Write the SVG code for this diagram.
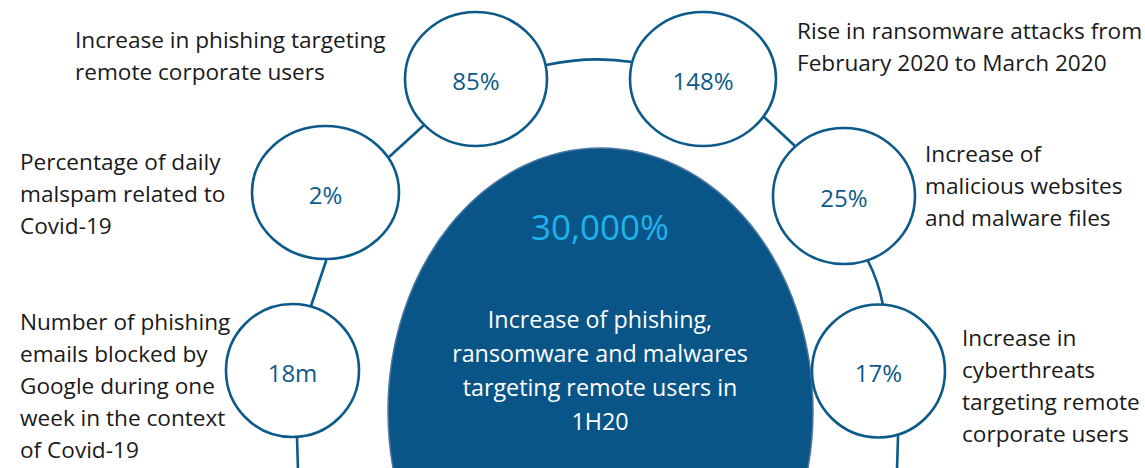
<svg xmlns="http://www.w3.org/2000/svg" width="1145" height="468" viewBox="0 0 1145 468">
  <style>
    .ring { fill: none; stroke: #0c5a8a; stroke-width: 2.6; stroke-linecap: round; }
    .bubble { fill: #ffffff; stroke: #0c5a8a; stroke-width: 2.6; }
    .val { font-family: "Open Sans", "Liberation Sans", sans-serif; font-size: 24px; fill: #0c5a8a; text-anchor: middle; }
    .lbl { font-family: "Open Sans", "Liberation Sans", sans-serif; font-size: 22.6px; fill: #1a1a1a; }
    .core { fill: #0a5587; stroke: #4c78a2; stroke-width: 1.5; }
    .big { font-family: "Open Sans", "Liberation Sans", sans-serif; font-size: 35px; fill: #1fb2ec; text-anchor: middle; }
    .desc { font-family: "Open Sans", "Liberation Sans", sans-serif; font-size: 23.3px; fill: #ffffff; text-anchor: middle; }
  </style>

  <rect width="1145" height="468" fill="#ffffff"/>

  <!-- ring segments linking the figures -->
  <g id="connectors">
    <path class="ring" d="M546,65 Q590,55.5 632,62"/>
    <path class="ring" d="M423,126 L389,157"/>
    <path class="ring" d="M326,261 L311,306"/>
    <path class="ring" d="M297,437 L298,470"/>
    <path class="ring" d="M765,118 L795,146"/>
    <path class="ring" d="M868,261 Q878,280 883,305"/>
    <path class="ring" d="M898,437 L897,470"/>
  </g>

  <!-- central figure -->
  <g id="core">
    <ellipse class="core" cx="600.5" cy="411" rx="212.5" ry="263"/>
    <text class="big" x="600" y="240">30,000%</text>
    <text class="desc" x="600" y="328">Increase of phishing,</text>
    <text class="desc" x="600" y="362">ransomware and malwares</text>
    <text class="desc" x="600" y="396">targeting remote users in</text>
    <text class="desc" x="600" y="430">1H20</text>
  </g>

  <g id="n85">
    <ellipse class="bubble" cx="476" cy="79" rx="71" ry="67"/>
    <text class="val" x="476" y="90">85%</text>
    <text class="lbl" x="75" y="48">Increase in phishing targeting</text>
    <text class="lbl" x="75" y="80">remote corporate users</text>
  </g>

  <g id="n148">
    <ellipse class="bubble" cx="703" cy="79" rx="73" ry="67"/>
    <text class="val" x="703" y="90">148%</text>
    <text class="lbl" x="797" y="39">Rise in ransomware attacks from</text>
    <text class="lbl" x="797" y="71">February 2020 to March 2020</text>
  </g>

  <g id="n2">
    <ellipse class="bubble" cx="325.5" cy="192.5" rx="73.5" ry="66.5"/>
    <text class="val" x="325.5" y="204">2%</text>
    <text class="lbl" x="20" y="170">Percentage of daily</text>
    <text class="lbl" x="20" y="202">malspam related to</text>
    <text class="lbl" x="20" y="234">Covid-19</text>
  </g>

  <g id="n25">
    <ellipse class="bubble" cx="844" cy="196" rx="71" ry="68"/>
    <text class="val" x="844" y="207">25%</text>
    <text class="lbl" x="925" y="162">Increase of</text>
    <text class="lbl" x="925" y="194">malicious websites</text>
    <text class="lbl" x="925" y="226">and malware files</text>
  </g>

  <g id="n18">
    <circle class="bubble" cx="292.5" cy="370.5" r="66.5"/>
    <text class="val" x="292.5" y="382">18m</text>
    <text class="lbl" x="20" y="330">Number of phishing</text>
    <text class="lbl" x="20" y="362">emails blocked by</text>
    <text class="lbl" x="20" y="394">Google during one</text>
    <text class="lbl" x="20" y="426">week in the context</text>
    <text class="lbl" x="20" y="458">of Covid-19</text>
  </g>

  <g id="n17">
    <circle class="bubble" cx="878.5" cy="371" r="66.5"/>
    <text class="val" x="878.5" y="382">17%</text>
    <text class="lbl" x="962" y="346">Increase in</text>
    <text class="lbl" x="962" y="378">cyberthreats</text>
    <text class="lbl" x="962" y="410">targeting remote</text>
    <text class="lbl" x="962" y="442">corporate users</text>
  </g>
</svg>
